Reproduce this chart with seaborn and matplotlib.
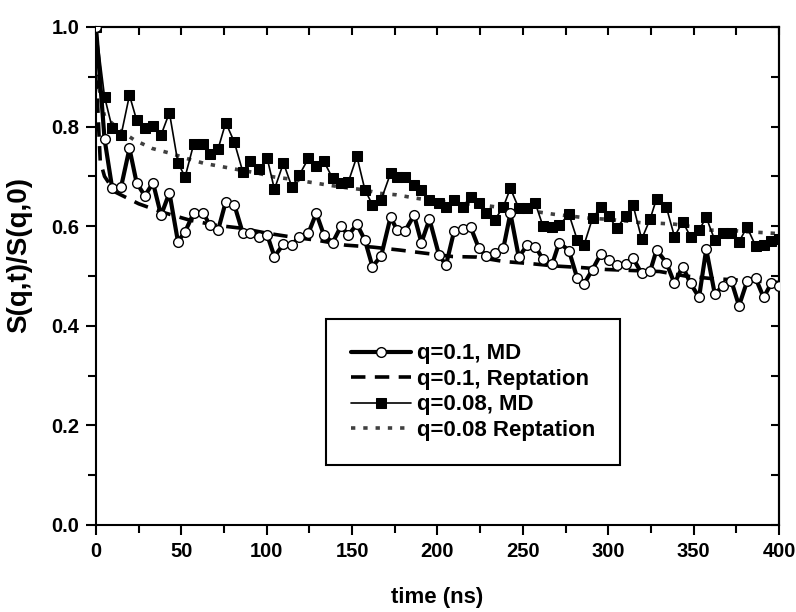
import matplotlib
matplotlib.use("Agg")
import matplotlib.pyplot as plt
import seaborn as sns
from matplotlib.ticker import MultipleLocator

# ---- data ----
time_md = [0, 5, 9.5, 14.7, 19.6, 23.8, 28.6, 33.4, 38.1, 43, 48, 52.2, 57.3, 62.8, 66.6,
           71.5, 76, 81, 86, 90.4, 95.4, 100.3, 104.5, 109.8, 114.7, 119.1, 124.4, 129,
           133.5, 138.6, 143.5, 147.8, 152.8, 157.5, 161.9, 167, 172.5, 176.4, 181.1, 186.3,
           190.6, 195.3, 200.9, 205, 209.8, 214.8, 219.4, 224.2, 228.7, 233.4, 238.6, 242.7,
           247.6, 252.6, 257.3, 261.7, 267.2, 271.3, 277, 281.9, 285.8, 290.8, 295.8, 300.3,
           305, 310.2, 314.5, 319.6, 324.5, 328.3, 334, 338.8, 343.6, 348.2, 353.2, 357.4,
           362.4, 367.3, 372.2, 376.6, 381.3, 386.4, 391, 395.5, 400]

s_q01_md = [1.0, 0.775, 0.676, 0.679, 0.756, 0.687, 0.661, 0.687, 0.622, 0.667,
            0.569, 0.589, 0.627, 0.627, 0.602, 0.592, 0.649, 0.643, 0.586, 0.586,
            0.579, 0.582, 0.539, 0.564, 0.562, 0.579, 0.586, 0.626, 0.582, 0.567,
            0.600, 0.582, 0.604, 0.572, 0.519, 0.540, 0.618, 0.592, 0.591, 0.622,
            0.567, 0.614, 0.542, 0.522, 0.591, 0.594, 0.598, 0.556, 0.540, 0.547,
            0.556, 0.626, 0.538, 0.562, 0.559, 0.534, 0.524, 0.567, 0.551, 0.495,
            0.484, 0.513, 0.545, 0.533, 0.522, 0.525, 0.536, 0.505, 0.509, 0.552,
            0.527, 0.485, 0.519, 0.485, 0.457, 0.554, 0.464, 0.480, 0.489, 0.440,
            0.489, 0.495, 0.457, 0.485, 0.480]

s_q008_md = [1.0, 0.860, 0.797, 0.783, 0.863, 0.813, 0.797, 0.801, 0.783, 0.828,
             0.727, 0.699, 0.766, 0.766, 0.745, 0.755, 0.808, 0.769, 0.709, 0.730,
             0.714, 0.736, 0.674, 0.727, 0.679, 0.703, 0.736, 0.721, 0.730, 0.696,
             0.687, 0.689, 0.740, 0.673, 0.643, 0.653, 0.706, 0.699, 0.699, 0.683,
             0.673, 0.653, 0.646, 0.639, 0.653, 0.639, 0.659, 0.646, 0.626, 0.612,
             0.639, 0.676, 0.636, 0.636, 0.646, 0.601, 0.599, 0.602, 0.624, 0.572,
             0.562, 0.616, 0.638, 0.620, 0.596, 0.620, 0.643, 0.574, 0.614, 0.655,
             0.639, 0.579, 0.609, 0.579, 0.592, 0.618, 0.572, 0.586, 0.587, 0.569,
             0.598, 0.560, 0.562, 0.571, 0.575]

time_rep01 = [0, 1, 2.5, 5, 11, 25, 38, 55, 70, 85, 100, 115, 129, 146, 162, 178, 192,
              209, 223, 239, 254, 269, 284, 299, 314, 330, 345, 360, 375, 390, 400]
s_q01_rep = [1.0, 0.84, 0.73, 0.70, 0.669, 0.645, 0.629, 0.612, 0.602, 0.596, 0.586,
             0.578, 0.572, 0.562, 0.558, 0.552, 0.546, 0.539, 0.538, 0.529, 0.525, 0.520,
             0.517, 0.513, 0.511, 0.509, 0.500, 0.495, 0.492, 0.489, 0.487]

time_rep008 = [0, 2, 5, 15, 22.5, 33, 44, 53, 63.5, 73, 84, 94, 104, 115, 124, 135, 145,
               157, 166, 176, 186, 197, 207, 227, 238, 248, 268, 289, 299, 309, 319, 329,
               339, 349, 360, 370, 381, 391, 400]
s_q008_rep = [1.0, 0.873, 0.82, 0.79, 0.773, 0.756, 0.746, 0.736, 0.726, 0.72, 0.713,
              0.707, 0.699, 0.694, 0.689, 0.683, 0.678, 0.673, 0.666, 0.663, 0.657, 0.651,
              0.648, 0.642, 0.637, 0.634, 0.624, 0.616, 0.614, 0.611, 0.607, 0.606, 0.604,
              0.599, 0.592, 0.592, 0.589, 0.587, 0.585]

labels = ["q=0.1, MD", "q=0.1, Reptation", "q=0.08, MD", "q=0.08 Reptation"]
x_ticks_major, x_ticks_minor = 50, 25
y_ticks_major, y_ticks_minor = 0.2, 0.1

# ---- style ----
sns.set_theme(style="ticks")
plt.rcParams["font.family"] = ["Liberation Sans", "DejaVu Sans"]
plt.rcParams["font.weight"] = "bold"
plt.rcParams["axes.linewidth"] = 1.5
for k in ["text.color", "axes.labelcolor", "xtick.color", "ytick.color",
          "axes.edgecolor"]:
    plt.rcParams[k] = "black"

fig = plt.figure(figsize=(7.96, 6.12), dpi=100)
ax = fig.add_axes([0.1206, 0.1422, 0.858, 0.8137])
ax.set_facecolor("white")

sns.lineplot(x=time_rep01, y=s_q01_rep, ax=ax, color="black", lw=2.6,
             linestyle=(0, (4, 2.6)), label=labels[1], zorder=2, sort=False)
sns.lineplot(x=time_rep008, y=s_q008_rep, ax=ax, color="#404040", lw=2.6,
             linestyle=(0, (1.2, 2.2)), label=labels[3], zorder=2, sort=False)
sns.lineplot(x=time_md, y=s_q008_md, ax=ax, color="black", lw=1.2, marker="s",
             markersize=7.5, markerfacecolor="black", markeredgecolor="black",
             label=labels[2], zorder=3, sort=False)
sns.lineplot(x=time_md, y=s_q01_md, ax=ax, color="black", lw=3, marker="o",
             markersize=7, markerfacecolor="white", markeredgecolor="black",
             markeredgewidth=1, label=labels[0], zorder=4, sort=False)

ax.set_xlim(0, 400)
ax.set_ylim(0, 1.0)
ax.xaxis.set_major_locator(MultipleLocator(x_ticks_major))
ax.xaxis.set_minor_locator(MultipleLocator(x_ticks_minor))
ax.yaxis.set_major_locator(MultipleLocator(y_ticks_major))
ax.yaxis.set_minor_locator(MultipleLocator(y_ticks_minor))
ax.tick_params(which="both", direction="out", top=False, right=False, width=1.5,
               labelsize=14.5, colors="black", pad=5)
ax.tick_params(which="major", length=7)
ax.tick_params(which="minor", length=6)
for lab in ax.get_xticklabels() + ax.get_yticklabels():
    lab.set_fontweight("bold")
    lab.set_color("black")

secx = ax.secondary_xaxis("top")
secx.xaxis.set_major_locator(MultipleLocator(x_ticks_minor))
secx.tick_params(direction="in", length=6, width=1.5, labeltop=False, colors="black")
secy = ax.secondary_yaxis("right")
secy.yaxis.set_major_locator(MultipleLocator(y_ticks_minor))
secy.tick_params(direction="in", length=6, width=1.5, labelright=False, colors="black")

for sp in ax.spines.values():
    sp.set_color("black")
    sp.set_linewidth(1.5)

ax.set_xlabel("time (ns)", fontsize=16, fontweight="bold", va="top", color="black")
ax.xaxis.set_label_coords(0.5, -0.125)
ax.set_ylabel("S(q,t)/S(q,0)", fontsize=20, fontweight="bold", color="black")
ax.yaxis.set_label_coords(-0.093, 0.542)

handles, labs = ax.get_legend_handles_labels()
hmap = dict(zip(labs, handles))
leg = ax.legend([hmap[l] for l in labels], labels, loc="lower left",
                bbox_to_anchor=(0.337, 0.12), borderaxespad=0, frameon=True,
                fancybox=False, edgecolor="black", framealpha=1,
                prop={"weight": "bold", "size": 16}, handlelength=2.7,
                handletextpad=0.3, borderpad=1.1, labelspacing=0.2, numpoints=1)
leg.get_frame().set_linewidth(1.5)
for t in leg.get_texts():
    t.set_color("black")

fig.savefig("out.png", dpi=100, facecolor="white")
